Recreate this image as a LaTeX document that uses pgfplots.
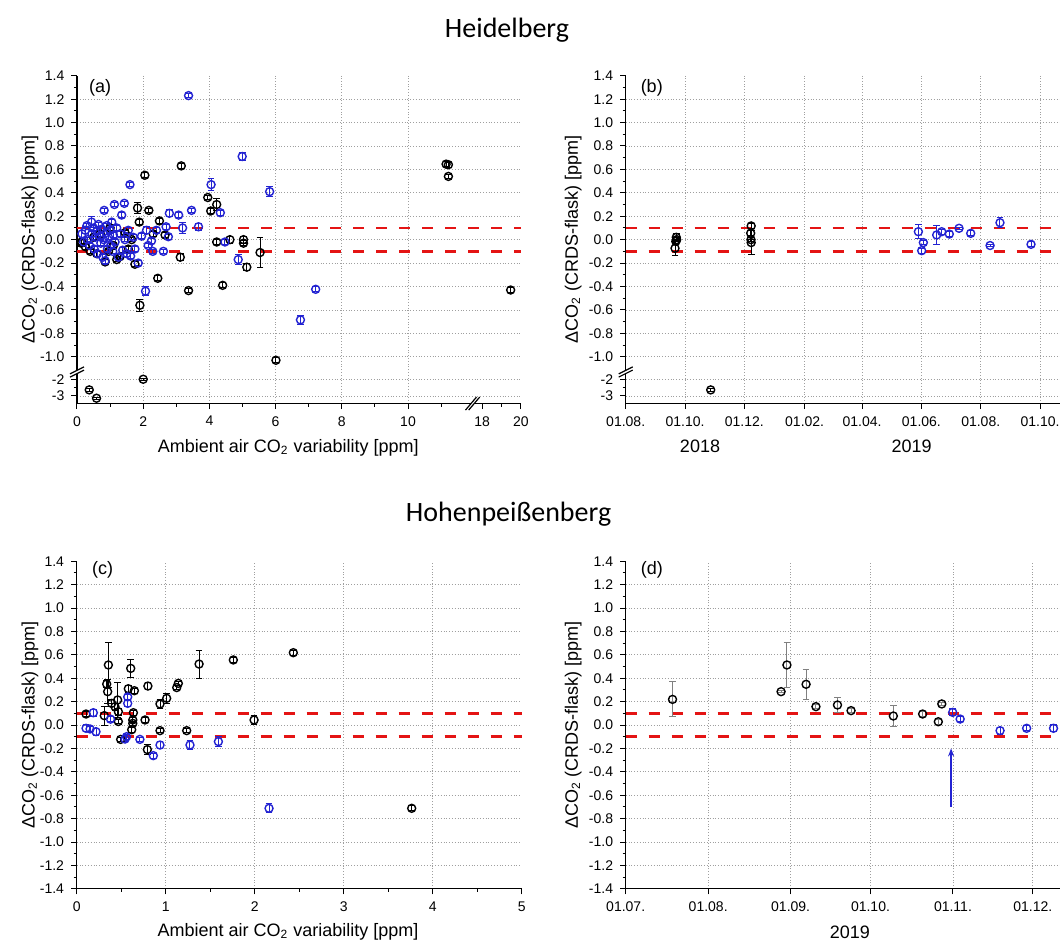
\documentclass[border=0pt]{standalone}
\usepackage{fontspec}
\setmainfont{Liberation Sans}
\newfontfamily\titlefont{Carlito}
\usepackage{pgfplots}
\pgfplotsset{compat=1.18}
\usetikzlibrary{arrows.meta}

\definecolor{ptblue}{RGB}{35,35,210}
\definecolor{limred}{RGB}{228,20,20}

\pgfplotsset{
  panel/.style={
    scale only axis, anchor=south west, clip=false,
    axis x line*=bottom, axis y line*=left,
    axis line style={line width=0.6pt},
    tick align=outside, major tick length=2.8pt, minor tick length=1.5pt,
    every tick/.style={black, line width=0.5pt},
    grid=major, grid style={densely dotted, gray!75, line width=0.4pt},
    extra tick style={grid=none},
    ymin=-1.4, ymax=1.4,
    tick label style={font=\fontsize{7}{8}\selectfont},
    label style={font=\fontsize{9}{10}\selectfont},
    ylabel={ΔCO\textsubscript{2} (CRDS-flask) [ppm]},
    /pgf/number format/assume math mode=true,
  },
  brokeny/.style={
    ytick={-1.335,-1.192,-1,-0.8,-0.6,-0.4,-0.2,0,0.2,0.4,0.6,0.8,1,1.2},
    yticklabels={-3,-2,-1.0,-0.8,-0.6,-0.4,-0.2,0.0,0.2,0.4,0.6,0.8,1.0,1.2},
    minor ytick={-1.264,-0.9,-0.7,-0.5,-0.3,-0.1,0.1,0.3,0.5,0.7,0.9,1.1,1.3},
    extra y ticks={1.4}, extra y tick labels={1.4},
  },
  fully/.style={
    ytick={-1.4,-1.2,-1,-0.8,-0.6,-0.4,-0.2,0,0.2,0.4,0.6,0.8,1,1.2},
    minor ytick={-1.3,-1.1,-0.9,-0.7,-0.5,-0.3,-0.1,0.1,0.3,0.5,0.7,0.9,1.1,1.3},
    extra y ticks={1.4}, extra y tick labels={1.4},
    yticklabel style={/pgf/number format/.cd, fixed, fixed zerofill, precision=1},
  },
  dpt/.style={only marks, mark=o, mark size=2pt, line width=0.7pt,
    error bars/y dir=both, error bars/y explicit,
    error bars/error bar style={line width=0.5pt},
    error bars/error mark options={rotate=90, line width=0.5pt, mark size=1.7pt}},
  limit/.style={limred, line width=1.4pt, dash pattern=on 5.5pt off 6pt, forget plot},
}

\begin{document}
\begin{tikzpicture}

\node[font=\titlefont\fontsize{14}{16}\selectfont] at (253.5pt,-15pt) {Heidelberg};
\node[font=\titlefont\fontsize{14}{16}\selectfont] at (254.3pt,-257pt) {Hohenpeißenberg};

% (a) Heidelberg, against ambient variability (broken x and y axes)
\begin{axis}[panel, brokeny,
  at={(38.5pt,-201.8pt)}, width=221.95pt, height=163.95pt,
  xmin=0, xmax=13.41,
  xtick={0,2,4,6,8,10},
  minor xtick={1,3,5,7,9,11,12.83},
  extra x ticks={12.24,13.41}, extra x tick labels={18,20},
  xlabel={Ambient air CO\textsubscript{2} variability [ppm]},
  xlabel style={at={(axis description cs:0.476,-0.135)}, anchor=center},
  ylabel style={at={(axis description cs:-0.106,0.5)}, anchor=center},
]
\addplot[limit] coordinates {(0,0.1) (13.41,0.1)};
\addplot[limit] coordinates {(0,-0.1) (13.41,-0.1)};
\addplot[dpt, black] table[x=x, y=y, y error=e] {
x y e
0.13 -0.03 0.03
0.14 -0.02 0.02
0.25 -0.06 0.02
0.40 -0.10 0.02
0.50 0.02 0.02
0.60 -0.12 0.02
0.70 0.05 0.02
0.85 -0.19 0.02
0.95 -0.10 0.02
1.00 0.10 0.02
1.10 -0.05 0.02
1.20 -0.17 0.02
1.30 -0.145 0.02
1.45 0.06 0.02
1.55 -0.08 0.02
1.65 0.00 0.02
1.75 -0.21 0.02
1.83 0.27 0.05
1.88 0.15 0.02
1.90 -0.56 0.05
2.05 0.55 0.02
2.17 0.25 0.02
2.30 0.05 0.02
2.44 -0.33 0.02
2.49 0.16 0.02
2.66 0.04 0.02
3.12 -0.15 0.03
3.15 0.63 0.02
3.37 -0.435 0.02
3.95 0.36 0.02
4.04 0.245 0.02
4.22 0.30 0.05
4.22 -0.02 0.02
4.40 -0.39 0.02
4.62 0.00 0.03
5.03 0.00 0.03
5.03 -0.03 0.02
5.13 -0.235 0.03
5.53 -0.11 0.13
6.01 -1.03 0.02
11.15 0.645 0.02
11.22 0.64 0.02
11.22 0.54 0.02
13.10 -0.43 0.02
0.37 -1.283 0.01
0.59 -1.354 0.01
2.00 -1.192 0.01
};
\addplot[dpt, ptblue] table[x=x, y=y, y error=e] {
x y e
0.15 0.05 0.03
0.20 -0.02 0.02
0.25 0.08 0.03
0.30 0.12 0.02
0.32 0.00 0.02
0.38 -0.05 0.02
0.44 0.15 0.05
0.45 0.05 0.02
0.50 0.10 0.02
0.52 -0.08 0.02
0.55 0.02 0.02
0.60 0.07 0.03
0.62 -0.12 0.02
0.65 0.13 0.02
0.70 0.03 0.02
0.72 -0.03 0.02
0.75 0.09 0.02
0.78 -0.15 0.02
0.80 0.00 0.02
0.82 0.25 0.02
0.85 -0.18 0.02
0.88 0.06 0.02
0.90 0.12 0.02
0.92 -0.08 0.02
0.95 0.02 0.02
1.00 0.08 0.02
1.02 -0.05 0.02
1.05 0.15 0.02
1.08 -0.10 0.02
1.10 0.04 0.02
1.13 0.30 0.02
1.15 -0.02 0.02
1.20 0.10 0.02
1.25 -0.15 0.02
1.30 0.05 0.02
1.35 0.21 0.02
1.38 -0.09 0.02
1.43 0.31 0.02
1.45 0.00 0.02
1.50 -0.12 0.02
1.55 0.08 0.02
1.60 0.47 0.02
1.62 -0.14 0.02
1.70 0.02 0.02
1.75 -0.08 0.02
1.85 -0.20 0.02
1.95 0.03 0.02
2.07 -0.44 0.04
2.10 0.08 0.03
2.15 -0.05 0.02
2.25 -0.01 0.02
2.29 -0.10 0.02
2.40 0.08 0.02
2.61 -0.10 0.02
2.69 0.11 0.02
2.76 0.025 0.02
2.79 0.225 0.03
3.07 0.21 0.02
3.19 0.10 0.05
3.37 1.23 0.02
3.46 0.25 0.02
3.67 0.11 0.03
4.05 0.47 0.05
4.33 0.23 0.02
4.47 -0.02 0.02
4.87 -0.17 0.04
4.99 0.71 0.03
5.82 0.41 0.04
6.75 -0.685 0.04
7.21 -0.424 0.02
};
% axis breaks
\fill[white] ([shift={(-1.2pt,-0.8pt)}]axis cs:0,-1.13) rectangle ([shift={(1.2pt,0.8pt)}]axis cs:0,-1.13);
\draw[line width=0.6pt] ([shift={(-3.5pt,-2.55pt)}]axis cs:0,-1.13) -- ++(7pt,3.5pt);
\draw[line width=0.6pt] ([shift={(-3.5pt,-0.95pt)}]axis cs:0,-1.13) -- ++(7pt,3.5pt);
\fill[white] ([shift={(-0.8pt,-1.2pt)}]axis cs:11.95,-1.4) rectangle ([shift={(0.8pt,1.2pt)}]axis cs:11.95,-1.4);
\draw[line width=0.6pt] ([shift={(-3.55pt,-3.25pt)}]axis cs:11.95,-1.4) -- ++(5.5pt,6.5pt);
\draw[line width=0.6pt] ([shift={(-1.95pt,-3.25pt)}]axis cs:11.95,-1.4) -- ++(5.5pt,6.5pt);
\node[anchor=center, font=\fontsize{9}{10}\selectfont] at (axis description cs:0.052,0.962) {(a)};
\end{axis}

% (b) Heidelberg, time series (days since 01.08.2018)
\begin{axis}[panel, brokeny,
  at={(312.85pt,-201.8pt)}, width=217.1pt, height=163.95pt,
  xmin=0, xmax=446.4,
  xtick={0,61,122,184,243,304,365,426},
  xticklabels={01.08.,01.10.,01.12.,01.02.,01.04.,01.06.,01.08.,01.10.},
  ylabel style={at={(axis description cs:-0.121,0.5)}, anchor=center},
]
\addplot[limit] coordinates {(0,0.1) (446.4,0.1)};
\addplot[limit] coordinates {(0,-0.1) (446.4,-0.1)};
\addplot[dpt, black] table[x=x, y=y, y error=e] {
x y e
50.7 -0.074 0.06
51.5 -0.015 0.02
52.0 0.02 0.03
52.4 0.00 0.02
87.4 -1.283 0.01
129.0 0.117 0.02
128.5 0.055 0.02
128.8 0.00 0.02
129.0 -0.025 0.10
};
\addplot[dpt, ptblue] table[x=x, y=y, y error=e] {
x y e
300.9 0.068 0.06
306.0 -0.025 0.02
304.3 -0.094 0.02
319.7 0.04 0.08
324.9 0.068 0.02
332.7 0.048 0.02
342.7 0.097 0.01
354.7 0.054 0.02
374.6 -0.05 0.01
384.8 0.145 0.04
416.7 -0.04 0.02
};
\fill[white] ([shift={(-1.2pt,-0.8pt)}]axis cs:0,-1.13) rectangle ([shift={(1.2pt,0.8pt)}]axis cs:0,-1.13);
\draw[line width=0.6pt] ([shift={(-3.5pt,-2.55pt)}]axis cs:0,-1.13) -- ++(7pt,3.5pt);
\draw[line width=0.6pt] ([shift={(-3.5pt,-0.95pt)}]axis cs:0,-1.13) -- ++(7pt,3.5pt);
\node[font=\fontsize{9}{10}\selectfont] at ([yshift=-21.5pt]axis cs:76.4,-1.4) {2018};
\node[font=\fontsize{9}{10}\selectfont] at ([yshift=-21.5pt]axis cs:294,-1.4) {2019};
\node[anchor=center, font=\fontsize{9}{10}\selectfont] at (axis description cs:0.060,0.962) {(b)};
\end{axis}

% (c) Hohenpeissenberg, against ambient variability
\begin{axis}[panel, fully,
  at={(38.35pt,-444.4pt)}, width=222.5pt, height=163.8pt,
  xmin=0, xmax=5,
  xtick={0,1,2,3,4}, extra x ticks={5}, extra x tick labels={5},
  minor xtick={0.5,1.5,2.5,3.5,4.5},
  xlabel={Ambient air CO\textsubscript{2} variability [ppm]},
  xlabel style={at={(axis description cs:0.475,-0.132)}, anchor=center},
  ylabel style={at={(axis description cs:-0.105,0.5)}, anchor=center},
]
\addplot[limit] coordinates {(0,0.1) (5,0.1)};
\addplot[limit] coordinates {(0,-0.1) (5,-0.1)};
\addplot[dpt, black] table[x=x, y=y, y error=e] {
x y e
0.105 0.094 0.02
0.31 0.08 0.08
0.337 0.35 0.03
0.356 0.513 0.19
0.348 0.285 0.10
0.393 0.185 0.03
0.43 0.157 0.03
0.46 0.214 0.15
0.468 0.114 0.03
0.468 0.03 0.02
0.494 -0.123 0.02
0.58 0.31 0.03
0.607 0.484 0.08
0.648 0.293 0.02
0.637 0.105 0.02
0.63 0.043 0.02
0.63 0.014 0.02
0.618 -0.04 0.02
0.768 0.043 0.02
0.80 0.333 0.03
0.794 -0.21 0.04
0.936 -0.048 0.02
0.936 0.18 0.04
1.011 0.228 0.04
1.124 0.32 0.02
1.142 0.356 0.02
1.236 -0.048 0.02
1.375 0.521 0.12
1.76 0.556 0.02
1.993 0.043 0.04
2.434 0.618 0.02
3.764 -0.712 0.02
};
\addplot[dpt, ptblue] table[x=x, y=y, y error=e] {
x y e
0.187 0.105 0.03
0.105 -0.028 0.03
0.15 -0.034 0.02
0.217 -0.057 0.03
0.38 0.05 0.02
0.543 -0.12 0.02
0.56 -0.10 0.02
0.573 0.24 0.02
0.573 0.185 0.03
0.71 -0.123 0.02
0.861 -0.262 0.02
0.936 -0.171 0.03
1.273 -0.171 0.04
1.592 -0.142 0.04
2.161 -0.712 0.04
};
\node[anchor=center, font=\fontsize{9}{10}\selectfont] at (axis description cs:0.058,0.973) {(c)};
\end{axis}

% (d) Hohenpeissenberg, time series (days since 01.07.2019)
\begin{axis}[panel, fully,
  at={(312.85pt,-444.4pt)}, width=217.1pt, height=163.8pt,
  xmin=0, xmax=163.2,
  xtick={0,31,62,92,123,153},
  xticklabels={01.07.,01.08.,01.09.,01.10.,01.11.,01.12.},
  ylabel style={at={(axis description cs:-0.121,0.5)}, anchor=center},
]
\addplot[limit] coordinates {(0,0.1) (163.2,0.1)};
\addplot[limit] coordinates {(0,-0.1) (163.2,-0.1)};
\addplot[dpt, black, error bars/error bar style={gray, line width=0.5pt}] table[x=x, y=y, y error=e] {
x y e
17.6 0.219 0.15
58.4 0.285 0.01
60.6 0.513 0.19
67.8 0.348 0.13
71.5 0.157 0.02
79.6 0.171 0.06
84.7 0.123 0.02
100.6 0.077 0.09
111.6 0.094 0.02
117.5 0.028 0.02
118.8 0.18 0.01
};
\addplot[dpt, ptblue] table[x=x, y=y, y error=e] {
x y e
122.9 0.108 0.03
125.7 0.051 0.02
140.7 -0.048 0.03
150.7 -0.028 0.02
160.8 -0.028 0.03
};
\draw[-{Stealth[length=4pt,width=3pt]}, ptblue, line width=1pt] (axis cs:122.3,-0.70) -- (axis cs:122.3,-0.20);
\node[font=\fontsize{9}{10}\selectfont] at ([yshift=-21.5pt]axis cs:84.3,-1.4) {2019};
\node[anchor=center, font=\fontsize{9}{10}\selectfont] at (axis description cs:0.060,0.973) {(d)};
\end{axis}

\pgfresetboundingbox
\path[use as bounding box] (0,0) rectangle (530pt,-470.5pt);
\end{tikzpicture}
\end{document}
